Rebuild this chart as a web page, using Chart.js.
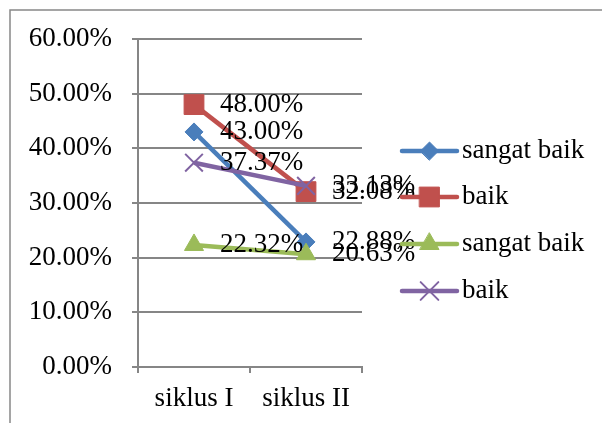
<!DOCTYPE html>
<html>
<head>
<meta charset="utf-8">
<script src="https://cdn.jsdelivr.net/npm/chart.js@4"></script>
<style>
  html, body { margin: 0; padding: 0; background: #fff; }
  #wrap { width: 602px; height: 423px; }
</style>
</head>
<body>
<div id="wrap"><canvas id="chart" width="602" height="423"></canvas></div>
<script>
const categories = ["siklus I", "siklus II"];
const seriesNames = ["sangat baik", "baik", "sangat baik", "baik"];
const sangatBaik1 = [43.0, 22.88];
const baik1 = [48.0, 32.08];
const sangatBaik2 = [22.32, 20.63];
const baik2 = [37.37, 33.13];
const yTicksMax = 60;
const yTickStep = 10;

const colors = ["#4A7EBB", "#C0504D", "#9BBB59", "#8064A2"];
const markers = ["rectRot", "rect", "triangle", "crossRot"];
const radii = [9, 14, 11, 12.5];
const FONT = "Liberation Serif";

function makeDataset(i, data) {
  return {
    label: seriesNames[i],
    data,
    borderColor: colors[i],
    backgroundColor: colors[i],
    pointBackgroundColor: colors[i],
    pointBorderColor: colors[i],
    pointStyle: markers[i],
    pointRadius: radii[i],
    pointBorderWidth: markers[i] === "crossRot" ? 2 : 1,
    borderWidth: 4.5,
    tension: 0,
    order: 3 - i,
  };
}

// outer frame like the original chart border
const framePlugin = {
  id: "frame",
  beforeDraw(chart) {
    const ctx = chart.ctx;
    ctx.save();
    ctx.fillStyle = "#fff";
    ctx.fillRect(0, 0, chart.width, chart.height);
    ctx.strokeStyle = "#888";
    ctx.lineWidth = 1.5;
    ctx.strokeRect(10, 10, 800, 600);
    ctx.restore();
  },
};

// value labels to the right of each point
const labelPlugin = {
  id: "valueLabels",
  afterDatasetsDraw(chart) {
    const ctx = chart.ctx;
    ctx.save();
    ctx.font = `27px "${FONT}"`;
    ctx.fillStyle = "#000";
    ctx.textBaseline = "middle";
    ctx.textAlign = "left";
    chart.data.datasets.forEach((ds, i) => {
      chart.getDatasetMeta(i).data.forEach((pt, j) => {
        ctx.fillText(ds.data[j].toFixed(2) + "%", pt.x + 26, pt.y);
      });
    });
    ctx.restore();
  },
};

// legend drawn like Excel: line with marker, then text
const legendPlugin = {
  id: "sideLegend",
  afterDraw(chart) {
    const ctx = chart.ctx;
    const x0 = 402, x1 = 457, tx = 462;
    const ys = [151, 197, 244, 291];
    ctx.save();
    chart.data.datasets.forEach((ds, i) => {
      const y = ys[i];
      ctx.strokeStyle = colors[i];
      ctx.lineWidth = 4.5;
      ctx.lineCap = "round";
      ctx.beginPath();
      ctx.moveTo(x0, y);
      ctx.lineTo(x1, y);
      ctx.stroke();
      ctx.fillStyle = colors[i];
      ctx.lineWidth = markers[i] === "crossRot" ? 2 : 1;
      Chart.helpers.drawPoint(ctx, { pointStyle: markers[i], radius: radii[i], rotation: 0, borderWidth: ctx.lineWidth }, (x0 + x1) / 2, y);
      ctx.fillStyle = "#000";
      ctx.font = `27px "${FONT}"`;
      ctx.textBaseline = "middle";
      ctx.fillText(ds.label, tx, y);
    });
    ctx.restore();
  },
};

new Chart(document.getElementById("chart").getContext("2d"), {
  type: "line",
  data: {
    labels: categories,
    datasets: [
      makeDataset(0, sangatBaik1),
      makeDataset(1, baik1),
      makeDataset(2, sangatBaik2),
      makeDataset(3, baik2),
    ],
  },
  options: {
    responsive: false,
    animation: false,
    layout: { padding: { top: 39, right: 240, left: 0, bottom: 0 } },
    plugins: {
      legend: { display: false },
      tooltip: { enabled: false },
    },
    scales: {
      x: {
        offset: true,
        afterFit(scale) { scale.height = 56; },
        border: { color: "#868686", width: 2 },
        grid: { offset: true, drawOnChartArea: false, tickLength: 6, color: "#868686", lineWidth: 2 },
        ticks: { color: "#000", font: { family: FONT, size: 27 }, padding: 10, maxRotation: 0 },
      },
      y: {
        min: 0,
        max: yTicksMax,
        afterFit(scale) { scale.width = 138; },
        border: { color: "#868686", width: 2 },
        grid: { tickLength: 6, color: "#868686", lineWidth: 2 },
        ticks: {
          stepSize: yTickStep,
          color: "#000",
          font: { family: FONT, size: 27 },
          padding: 20,
          callback: (v) => v.toFixed(2) + "%",
        },
      },
    },
  },
  plugins: [framePlugin, labelPlugin, legendPlugin],
});
</script>
</body>
</html>
